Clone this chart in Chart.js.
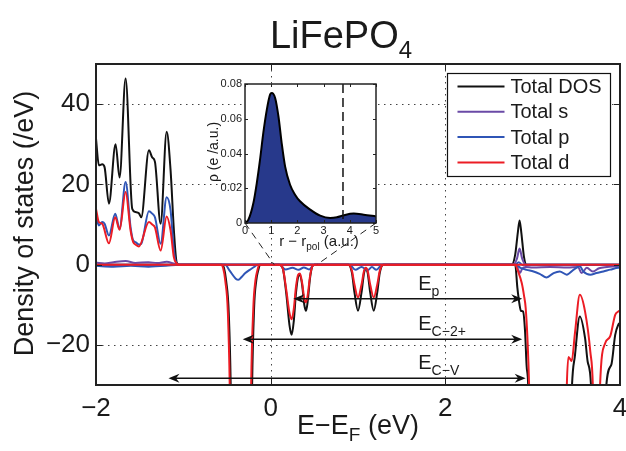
<!DOCTYPE html>
<html>
<head>
<meta charset="utf-8">
<script src="https://cdn.jsdelivr.net/npm/chart.js@4.4.1/dist/chart.umd.min.js"></script>
<style>
  html, body { margin: 0; padding: 0; background: #fff; }
  #wrap { position: relative; width: 626px; height: 451px; }
  #main { position: absolute; left: 0; top: 0; }
  #inset { position: absolute; left: 195px; top: 76px; }
</style>
</head>
<body>
<div id="wrap">
  <canvas id="main" width="626" height="451"></canvas>
  <canvas id="inset" width="190" height="180"></canvas>
</div>
<script>
// ---- data (energy in eV, DOS in states/eV) ----
const seriesNames = ['Total DOS', 'Total s', 'Total p', 'Total d'];
const seriesColors = ['#111111', '#6a4aa6', '#2f55b6', '#ec1c24'];

// spin up (positive) part
const totUpE = [-2.0, -1.967, -1.929, -1.902, -1.852, -1.776, -1.730, -1.661, -1.585, -1.547, -1.509, -1.482, -1.394, -1.356, -1.325, -1.260, -1.191, -1.146, -1.108, -1.077, -1.05, 2.76, 2.80, 2.83, 2.85, 2.87, 2.90, 2.93, 4.0];
const totUpY = [31.4, 24.75, 25, 24.3, 15.2, 30, 21.7, 46.4, 13.9, 13.1, 12.8, 11.8, 28.5, 26.7, 25.6, 10.2, 33.1, 23.5, 8.5, 0.6, 0, 0, 2.5, 8, 11, 8, 2, 0, 0];
const sUpE = [-2.0, -1.9, -1.8, -1.66, -1.55, -1.4, -1.3, -1.19, -1.1, -1.05, 2.78, 2.82, 2.85, 2.88, 2.92, 4.0];
const sUpY = [0.5, 0.3, 0.6, 0.9, 0.4, 0.6, 0.4, 0.7, 0.2, 0, 0, 1.5, 4, 1.5, 0, 0];
const pUpE = [-2.0, -1.967, -1.929, -1.902, -1.852, -1.78, -1.73, -1.661, -1.604, -1.574, -1.547, -1.509, -1.482, -1.394, -1.356, -1.325, -1.26, -1.191, -1.146, -1.108, -1.077, -1.05, 2.80, 2.84, 2.88, 4.0];
const pUpY = [12.25, 9.75, 10.6, 10.2, 7.25, 12.7, 8.9, 20.6, 9.3, 6, 5.6, 5, 5.2, 13.3, 12.7, 11.8, 5.2, 16.8, 13.5, 3.5, 0.3, 0, 0, 0.6, 0, 0];
const dUpE = [-2.0, -1.967, -1.929, -1.852, -1.78, -1.73, -1.661, -1.604, -1.574, -1.547, -1.509, -1.394, -1.356, -1.325, -1.26, -1.191, -1.146, -1.108, -1.077, -1.05, 4.0];
const dUpY = [13.9, 10.6, 10.2, 5.3, 11.8, 8.7, 18.1, 8.5, 5.6, 5, 4.5, 10.6, 10, 9.3, 3.5, 12, 8.5, 1.8, 0.3, 0, 0];

// spin down (negative) part, values below -30 run off the axes
const totDnE = [-2.0, -0.56, -0.535, -0.51, -0.48, -0.455, -0.44, -0.23, -0.215, -0.19, -0.165, -0.14, -0.12, 0.10, 0.14, 0.18, 0.215, 0.24, 0.265, 0.29, 0.315, 0.335, 0.36, 0.385, 0.405, 0.425, 0.45, 0.475, 0.50, 0.89, 0.93, 0.96, 1.0, 1.04, 1.07, 1.09, 1.11, 1.14, 1.18, 1.22, 1.25, 1.29, 2.80, 2.825, 2.85, 2.865, 2.89, 2.913, 2.93, 2.95, 2.98, 3.41, 3.447, 3.485, 3.54, 3.60, 3.63, 3.67, 3.70, 3.81, 3.84, 3.90, 3.945, 3.98, 4.0];
const totDnY = [0, 0, -0.8, -4, -12, -34, -70, -70, -34, -11, -4, -1.2, 0, 0, -1, -7.5, -15, -17.5, -14, -7, -3, -2.5, -5, -10, -11.5, -9, -3.5, -0.5, 0, 0, -2, -7, -11.5, -7, -2, -1, -2, -7, -11.5, -7, -2, 0, 0, -5.8, -10, -11.5, -11.7, -16.7, -25, -31, -70, -70, -32, -22.5, -12.9, -18.3, -24.2, -31, -70, -70, -31, -25, -17.5, -15, -14.5];
const sDnE = [-2.0, 2.80, 2.83, 2.855, 2.88, 2.92, 3.0, 3.2, 3.4, 3.52, 3.56, 3.62, 3.69, 3.76, 3.85, 3.95, 4.0];
const sDnY = [0, 0, -1, -2.1, -1, -0.6, -0.7, -0.6, -0.7, -0.6, -2.1, -0.8, -1.7, -0.9, -0.6, -0.4, -0.3];
const pDnE = [-2.0, -1.8, -1.6, -1.4, -1.2, -1.05, -0.52, -0.47, -0.40, -0.37, -0.33, -0.29, -0.24, -0.19, -0.15, 0.10, 0.17, 0.25, 0.32, 0.38, 0.44, 0.50, 0.90, 0.97, 1.04, 1.11, 1.16, 1.21, 1.28, 2.80, 2.86, 2.93, 3.01, 3.08, 3.16, 3.24, 3.31, 3.39, 3.47, 3.54, 3.58, 3.66, 3.73, 3.81, 3.89, 3.98, 4.0];
const pDnY = [-0.3, -0.5, -0.3, -0.5, -0.3, 0, 0, -1.5, -3.5, -3.8, -3, -2.1, -1.3, -0.6, 0, 0, -1.2, -0.8, -1.3, -0.7, -1.2, 0, 0, -1.3, -0.6, -1.4, -0.6, -1.3, 0, 0, -0.8, -1.3, -1.7, -2.3, -3.2, -2.1, -1.7, -2.5, -1.25, -0.4, -1.7, -2.5, -2.1, -1.7, -1.25, -0.8, -0.8];
const dDnE = [-2.0, -0.57, -0.545, -0.52, -0.49, -0.466, -0.45, -0.24, -0.226, -0.199, -0.175, -0.153, -0.13, 0.10, 0.14, 0.18, 0.215, 0.24, 0.265, 0.29, 0.315, 0.335, 0.36, 0.385, 0.405, 0.425, 0.45, 0.475, 0.50, 0.89, 0.93, 0.96, 1.0, 1.04, 1.07, 1.09, 1.11, 1.14, 1.18, 1.22, 1.25, 1.29, 2.80, 2.83, 2.875, 2.90, 2.92, 2.94, 2.96, 2.99, 3.36, 3.39, 3.41, 3.447, 3.485, 3.54, 3.60, 3.66, 3.69, 3.72, 3.74, 3.77, 3.83, 3.887, 3.945, 3.98, 4.0];
const dDnY = [0, 0, -0.8, -4, -12, -34, -70, -70, -34, -11, -4, -1.5, 0, 0, -1, -6.5, -12, -13.6, -11, -5.5, -2.5, -2.2, -4.5, -8.5, -9.4, -7.5, -3, -0.5, 0, 0, -1.5, -5, -8.2, -5, -1.5, -0.8, -1.5, -5, -8.2, -5, -1.5, 0, 0, -1.5, -4.6, -7.6, -10.8, -18.3, -31, -70, -70, -31, -23, -24, -16.9, -7.5, -11.7, -21.7, -31, -70, -70, -31, -19.6, -17.9, -12.5, -11.7, -11.5];

const xTicks = [-2, 0, 2, 4];
const yTicks = [-20, 0, 20, 40];

// gap arrows: start, end energy and level on the DOS axis
const gapNames = ['p', 'C\u22122+', 'C\u2212V'];
const gapFrom = [0.26, -0.32, -1.17];
const gapTo = [2.88, 2.88, 2.92];
const gapLevel = [-8.5, -18.6, -28.3];
const gapLabelE = [1.69, 1.69, 1.69];
const gapLabelY = [-6.2, -16.4, -26.0];

// region of the main axis the inset is linked to
const zoomSpan = [0.04, 0.53];

// inset: polaron charge density
const rPol = [0, 0.13, 0.32, 0.45, 0.57, 0.70, 0.83, 0.96, 1.02, 1.15, 1.28, 1.40, 1.53, 1.72, 1.91, 2.10, 2.49, 2.87, 3.25, 3.51, 3.76, 4.15, 4.53, 5.0];
const rhoPol = [0, 0.0019, 0.0115, 0.023, 0.036, 0.052, 0.065, 0.074, 0.0748, 0.072, 0.061, 0.046, 0.0326, 0.022, 0.0163, 0.0125, 0.0077, 0.0042, 0.0029, 0.0033, 0.0044, 0.0054, 0.0048, 0.0038];
const rCut = 3.74;
const insetXTicks = [0, 1, 2, 3, 4, 5];
const insetYTicks = [0, 0.02, 0.04, 0.06, 0.08];

const FONT = "'Liberation Sans', Arial, Helvetica, sans-serif";
const INK = '#1a1a1a';

const pts = (xs, ys) => xs.map((x, i) => ({ x: x, y: ys[i] }));
const minus = v => String(v).replace('-', '\u2212');

function richText(ctx, parts, x, y, align){
  let w = 0;
  parts.forEach(p => { ctx.font = p.size + 'px ' + FONT; p.w = ctx.measureText(p.t).width; w += p.w; });
  let cx = align === 'center' ? x - w / 2 : x;
  ctx.textAlign = 'left';
  ctx.textBaseline = 'alphabetic';
  parts.forEach(p => { ctx.font = p.size + 'px ' + FONT; ctx.fillText(p.t, cx, y + (p.dy || 0)); cx += p.w; });
}

function arrowHead(ctx, x, y, dir){
  const L = 11, H = 4.5, N = 3.5;
  ctx.beginPath();
  ctx.moveTo(x, y);
  ctx.lineTo(x + dir * L, y - H);
  ctx.lineTo(x + dir * (L - N), y);
  ctx.lineTo(x + dir * L, y + H);
  ctx.closePath();
  ctx.fill();
}

function boxTicks(ctx, area, xs, ys, xScale, yScale, len){
  ctx.beginPath();
  xs.forEach(v => {
    const px = Math.round(xScale.getPixelForValue(v)) + 0.5;
    ctx.moveTo(px, area.bottom); ctx.lineTo(px, area.bottom - len);
    ctx.moveTo(px, area.top); ctx.lineTo(px, area.top + len);
  });
  ys.forEach(v => {
    const py = Math.round(yScale.getPixelForValue(v)) + 0.5;
    ctx.moveTo(area.left, py); ctx.lineTo(area.left + len, py);
    ctx.moveTo(area.right, py); ctx.lineTo(area.right - len, py);
  });
  ctx.stroke();
}

const noGrid = { display: false, drawTicks: false };

// ---- inset chart ----
const insetDeco = {
  id: 'insetDeco',
  beforeDatasetsDraw(chart){
    const { ctx, chartArea: a } = chart;
    ctx.save();
    ctx.fillStyle = '#fff';
    ctx.fillRect(a.left, a.top, a.right - a.left, a.bottom - a.top);
    ctx.restore();
  },
  afterDatasetsDraw(chart){
    const { ctx, chartArea: a, scales } = chart;
    ctx.save();
    // cut-off radius
    const cx = scales.x.getPixelForValue(rCut);
    ctx.strokeStyle = '#111';
    ctx.lineWidth = 1.5;
    ctx.setLineDash([9, 5]);
    ctx.beginPath(); ctx.moveTo(cx, a.top); ctx.lineTo(cx, a.bottom); ctx.stroke();
    ctx.setLineDash([]);
    ctx.lineWidth = 1;
    ctx.strokeStyle = '#222';
    boxTicks(ctx, a, insetXTicks, insetYTicks, scales.x, scales.y, 3);
    ctx.lineWidth = 1.5;
    ctx.strokeRect(a.left, a.top, a.right - a.left, a.bottom - a.top);
    // axis titles
    ctx.fillStyle = INK;
    ctx.save();
    ctx.translate(19, 76);
    ctx.rotate(-Math.PI / 2);
    ctx.font = '14px ' + FONT;
    ctx.textAlign = 'center';
    ctx.textBaseline = 'middle';
    ctx.fillText('\u03c1 (e /a.u.)', 0, 0);
    ctx.restore();
    richText(ctx, [{ t: 'r \u2212 r', size: 15 }, { t: 'pol', size: 10, dy: 4 }, { t: ' (a.u.)', size: 15 }], 124, 170, 'center');
    ctx.restore();
  }
};

const insetChart = new Chart(document.getElementById('inset'), {
  type: 'line',
  data: {
    datasets: [{
      data: pts(rPol, rhoPol),
      borderColor: '#000',
      borderWidth: 2,
      backgroundColor: '#27398b',
      fill: 'origin',
      pointRadius: 0,
      cubicInterpolationMode: 'monotone'
    }]
  },
  options: {
    responsive: false,
    animation: false,
    devicePixelRatio: 1,
    layout: { padding: { top: 8, right: 9, left: 0, bottom: 0 } },
    plugins: { legend: { display: false }, tooltip: { enabled: false } },
    scales: {
      x: {
        type: 'linear', min: 0, max: 5,
        afterBuildTicks: s => { s.ticks = insetXTicks.map(v => ({ value: v })); },
        afterFit: s => { s.height = 33; s.paddingLeft = 0; s.paddingRight = 0; },
        grid: noGrid, border: { display: false },
        ticks: { font: { family: FONT, size: 11 }, color: INK, padding: 1, maxRotation: 0, autoSkip: false }
      },
      y: {
        type: 'linear', min: 0, max: 0.08,
        afterBuildTicks: s => { s.ticks = insetYTicks.map(v => ({ value: v })); },
        afterFit: s => { s.width = 50; s.paddingTop = 0; s.paddingBottom = 0; },
        grid: noGrid, border: { display: false },
        ticks: { font: { family: FONT, size: 11 }, color: INK, padding: 3, autoSkip: false,
          callback: v => v === 0 ? '0' : v.toFixed(2) }
      }
    }
  },
  plugins: [insetDeco]
});

// ---- main chart ----
const matlabAxes = {
  id: 'matlabAxes',
  beforeDatasetsDraw(chart){
    const { ctx, chartArea: a, scales } = chart;
    ctx.save();
    ctx.strokeStyle = '#444';
    ctx.lineWidth = 1;
    ctx.setLineDash([1.5, 4.5]);
    ctx.beginPath();
    xTicks.forEach(v => {
      if (v <= scales.x.min || v >= scales.x.max) return;
      const px = Math.round(scales.x.getPixelForValue(v)) + 0.5;
      ctx.moveTo(px, a.top); ctx.lineTo(px, a.bottom);
    });
    yTicks.forEach(v => {
      const py = Math.round(scales.y.getPixelForValue(v)) + 0.5;
      ctx.moveTo(a.left, py); ctx.lineTo(a.right, py);
    });
    ctx.stroke();
    ctx.restore();
  },
  afterDatasetsDraw(chart){
    const { ctx, chartArea: a, scales } = chart;
    const xs = scales.x, ys = scales.y;
    ctx.save();

    // gap arrows + labels
    ctx.strokeStyle = '#111';
    ctx.fillStyle = '#111';
    ctx.lineWidth = 1.6;
    gapNames.forEach((name, i) => {
      const x1 = xs.getPixelForValue(gapFrom[i]);
      const x2 = xs.getPixelForValue(gapTo[i]);
      const y = ys.getPixelForValue(gapLevel[i]);
      ctx.beginPath(); ctx.moveTo(x1 + 6, y); ctx.lineTo(x2 - 6, y); ctx.stroke();
      arrowHead(ctx, x1, y, 1);
      arrowHead(ctx, x2, y, -1);
      ctx.fillStyle = INK;
      richText(ctx, [{ t: 'E', size: 20 }, { t: name, size: 14, dy: 6 }],
        xs.getPixelForValue(gapLabelE[i]), ys.getPixelForValue(gapLabelY[i]), 'left');
      ctx.fillStyle = '#111';
    });

    // frame and inward ticks
    ctx.strokeStyle = '#222';
    ctx.lineWidth = 1;
    boxTicks(ctx, a, xTicks, yTicks, xs, ys, 6);
    ctx.lineWidth = 2;
    ctx.strokeRect(a.left, a.top, a.right - a.left, a.bottom - a.top);

    // links from inset corners to the zoomed energy window
    const ic = insetChart.canvas, ia = insetChart.chartArea;
    const corners = [[ic.offsetLeft + ia.left, ic.offsetTop + ia.bottom], [ic.offsetLeft + ia.right, ic.offsetTop + ia.bottom]];
    ctx.lineWidth = 1;
    ctx.strokeStyle = '#222';
    ctx.setLineDash([7, 5]);
    ctx.beginPath();
    corners.forEach((c, i) => {
      ctx.moveTo(c[0], c[1]);
      ctx.lineTo(xs.getPixelForValue(zoomSpan[i]), ys.getPixelForValue(0));
    });
    ctx.stroke();
    ctx.setLineDash([]);

    // legend
    const lx = 447.5, ly = 73.5, lw = 163, lh = 103;
    ctx.fillStyle = '#fff';
    ctx.fillRect(lx, ly, lw, lh);
    ctx.strokeStyle = '#111';
    ctx.lineWidth = 1.2;
    ctx.strokeRect(lx, ly, lw, lh);
    seriesNames.forEach((name, i) => {
      const y = ly + 13 + i * 25.3;
      ctx.strokeStyle = seriesColors[i];
      ctx.lineWidth = 2;
      ctx.beginPath(); ctx.moveTo(lx + 10, y); ctx.lineTo(lx + 57, y); ctx.stroke();
      ctx.fillStyle = INK;
      ctx.font = '20px ' + FONT;
      ctx.textAlign = 'left';
      ctx.textBaseline = 'middle';
      ctx.fillText(name, lx + 63, y + 1);
    });

    // title and axis titles
    ctx.fillStyle = INK;
    richText(ctx, [{ t: 'LiFePO', size: 38 }, { t: '4', size: 24, dy: 10 }], 341, 48, 'center');
    richText(ctx, [{ t: 'E\u2212E', size: 27 }, { t: 'F', size: 19, dy: 7 }, { t: ' (eV)', size: 27 }], (a.left + a.right) / 2, 434, 'center');
    ctx.save();
    ctx.translate(26, (a.top + a.bottom) / 2 - 1);
    ctx.rotate(-Math.PI / 2);
    ctx.font = '27px ' + FONT;
    ctx.textAlign = 'center';
    ctx.textBaseline = 'middle';
    ctx.fillText('Density of states (/eV)', 0, 0);
    ctx.restore();

    ctx.restore();
  }
};

function line(data, color, order){
  return { data: data, borderColor: color, borderWidth: 2, pointRadius: 0, fill: false,
    cubicInterpolationMode: 'monotone', order: order };
}

new Chart(document.getElementById('main'), {
  type: 'line',
  data: {
    datasets: [
      line(pts(totUpE, totUpY), seriesColors[0], 4),
      line(pts(totDnE, totDnY), seriesColors[0], 4),
      line(pts(sUpE, sUpY), seriesColors[1], 3),
      line(pts(sDnE, sDnY), seriesColors[1], 3),
      line(pts(pUpE, pUpY), seriesColors[2], 2),
      line(pts(pDnE, pDnY), seriesColors[2], 2),
      line(pts(dUpE, dUpY), seriesColors[3], 1),
      line(pts(dDnE, dDnY), seriesColors[3], 1)
    ]
  },
  options: {
    responsive: false,
    animation: false,
    devicePixelRatio: 1,
    elements: { line: { capBezierPoints: false } },
    layout: { padding: { top: 64, right: 6, left: 0, bottom: 0 } },
    plugins: { legend: { display: false }, tooltip: { enabled: false }, title: { display: false } },
    scales: {
      x: {
        type: 'linear', min: -2, max: 4,
        afterBuildTicks: s => { s.ticks = xTicks.map(v => ({ value: v })); },
        afterFit: s => { s.height = 66; s.paddingLeft = 0; s.paddingRight = 0; },
        grid: noGrid, border: { display: false },
        ticks: { font: { family: FONT, size: 26 }, color: INK, padding: 8, maxRotation: 0, autoSkip: false,
          callback: v => minus(v) }
      },
      y: {
        type: 'linear', min: -30, max: 50,
        afterBuildTicks: s => { s.ticks = yTicks.map(v => ({ value: v })); },
        afterFit: s => { s.width = 96; s.paddingTop = 0; s.paddingBottom = 0; },
        grid: noGrid, border: { display: false },
        ticks: { font: { family: FONT, size: 26 }, color: INK, padding: 6, autoSkip: false,
          callback: v => minus(v) }
      }
    }
  },
  plugins: [matlabAxes]
});
</script>
</body>
</html>
